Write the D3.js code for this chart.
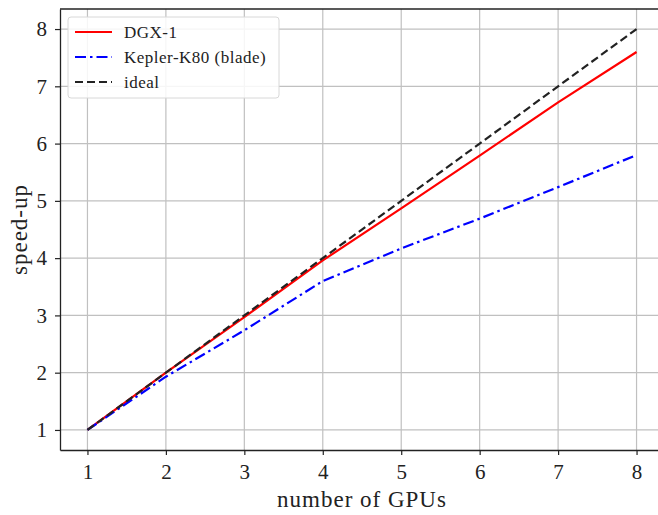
<!DOCTYPE html>
<html>
<head>
<meta charset="utf-8">
<script src="https://cdn.jsdelivr.net/npm/d3@7"></script>
<style>
  body { margin: 0; background: #fff; }
  svg { font-family: "Liberation Serif", "DejaVu Serif", serif; }
</style>
</head>
<body>
<div id="chart"></div>
<script>
let gpus = [1, 2, 3, 4, 5, 6, 7, 8];
let dgx = [1, 2.0, 2.97, 3.96, 4.87, 5.79, 6.72, 7.6];
let kepler = [1, 1.93, 2.74, 3.6, 4.17, 4.69, 5.24, 5.8];
let ideal = [1, 2, 3, 4, 5, 6, 7, 8];
let xticks = [1, 2, 3, 4, 5, 6, 7, 8];
let yticks = [1, 2, 3, 4, 5, 6, 7, 8];

let width = 658;
let height = 515;
let m_left = 60, m_top = 9, m_bottom = 450, m_right = 664;

let x = d3.scaleLinear().domain([0.65, 8.35]).range([m_left, m_right]);
let y = d3.scaleLinear().domain([0.65, 8.35]).range([m_bottom, m_top]);

let svg = d3.select('#chart').append('svg')
            .attr('width', width)
            .attr('height', height);

// grid
svg.append('g')
    .selectAll('line')
    .data(xticks)
    .join('line')
        .attr('x1', d => x(d)).attr('x2', d => x(d))
        .attr('y1', m_top).attr('y2', m_bottom)
        .attr('stroke', '#c0c0c0').attr('stroke-width', 1.2);
svg.append('g')
    .selectAll('line')
    .data(yticks)
    .join('line')
        .attr('y1', d => y(d)).attr('y2', d => y(d))
        .attr('x1', m_left).attr('x2', m_right)
        .attr('stroke', '#c0c0c0').attr('stroke-width', 1.2);

let line = d3.line().x((d, i) => x(gpus[i])).y(d => y(d));

let series = [
    {name: 'DGX-1', values: dgx, color: '#ff0000', dash: null},
    {name: 'Kepler-K80 (blade)', values: kepler, color: '#0000ff', dash: '11,4,2.5,4'},
    {name: 'ideal', values: ideal, color: '#222222', dash: '8,4'}
];

series.forEach(s => {
    svg.append('path')
        .attr('d', line(s.values))
        .attr('fill', 'none')
        .attr('stroke', s.color)
        .attr('stroke-width', 2.2)
        .attr('stroke-dasharray', s.dash);
});

// axes
let xAxis = d3.axisBottom(x).tickValues(xticks).tickSize(5).tickSizeOuter(0).tickPadding(9).tickFormat(d3.format('d'));
let yAxis = d3.axisLeft(y).tickValues(yticks).tickSize(5).tickSizeOuter(0).tickPadding(8).tickFormat(d3.format('d'));

let gx = svg.append('g').attr('transform', `translate(0,${m_bottom})`).call(xAxis);
let gy = svg.append('g').attr('transform', `translate(${m_left},0)`).call(yAxis);
[gx, gy].forEach(g => {
    g.select('.domain').attr('stroke', '#222').attr('stroke-width', 1.3);
    g.selectAll('.tick line').attr('stroke', '#222').attr('stroke-width', 1.2);
    g.selectAll('.tick text').attr('fill', '#222').style('font-size', '21px')
        .style('font-family', '"Liberation Serif", serif');
});
// top spine
svg.append('line').attr('x1', m_left).attr('x2', m_right).attr('y1', m_top).attr('y2', m_top)
    .attr('stroke', '#222').attr('stroke-width', 1.3);

// labels
svg.append('text')
    .attr('x', 362).attr('y', 507)
    .attr('text-anchor', 'middle')
    .attr('fill', '#222')
    .style('font-size', '23px')
    .style('letter-spacing', '1px')
    .text('number of GPUs');
svg.append('text')
    .attr('transform', `translate(27,${(m_top + m_bottom) / 2}) rotate(-90)`)
    .attr('text-anchor', 'middle')
    .attr('fill', '#222')
    .style('font-size', '23px')
    .style('letter-spacing', '1px')
    .text('speed-up');

// legend
let lg = svg.append('g').attr('transform', 'translate(68,17)');
lg.append('rect')
    .attr('width', 211).attr('height', 81).attr('rx', 3)
    .attr('fill', 'rgba(255,255,255,0.85)')
    .attr('stroke', '#d8d8d8').attr('stroke-width', 1);
series.forEach((s, i) => {
    let yy = 15 + i * 25;
    lg.append('line')
        .attr('x1', 7).attr('x2', 44).attr('y1', yy).attr('y2', yy)
        .attr('stroke', s.color).attr('stroke-width', 2.2)
        .attr('stroke-dasharray', s.dash);
    lg.append('text')
        .attr('x', 56).attr('y', yy + 6)
        .attr('fill', '#222')
        .style('font-size', '17px')
        .style('letter-spacing', '0.5px')
        .text(s.name);
});
</script>
</body>
</html>
